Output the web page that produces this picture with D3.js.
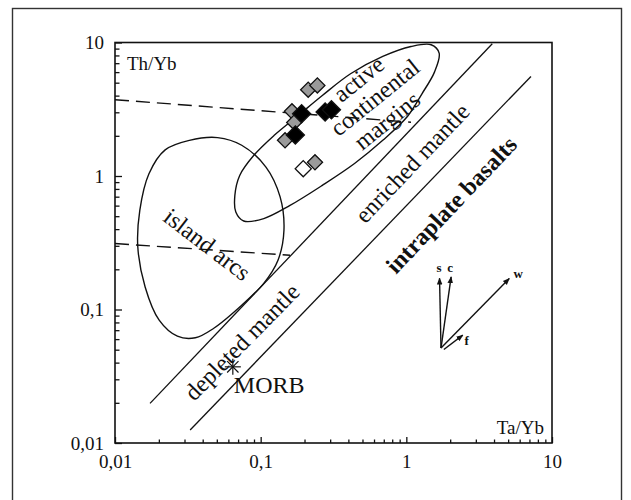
<!DOCTYPE html>
<html>
<head>
<meta charset="utf-8">
<script src="https://cdn.jsdelivr.net/npm/d3@7"></script>
<style>
  body { margin: 0; background: #fff; }
  svg { display: block; font-family: "Liberation Serif", "Times New Roman", serif; }
</style>
</head>
<body>
<div id="chart"></div>
<script>

// tick labels (decimal comma)
var majorTicks = [0.01, 0.1, 1, 10],
    majorLabels = ["0,01", "0,1", "1", "10"];

// field boundaries, points are [Ta/Yb, Th/Yb]
var mantleUpper = [[0.0174, 0.0198], [3.89, 9.78]],
    mantleLower = [[0.0328, 0.0125], [7.17, 5.57]];

var dashUpper = [[0.01, 3.73], [1.077, 2.53]],
    dashLower = [[0.01, 0.312], [0.159, 0.255]];

var activeMargins = [
    [0.0665, 0.716], [0.0718, 1.01], [0.0898, 1.43], [0.1234, 2.01],
    [0.181, 2.84], [0.265, 4.01], [0.414, 5.83], [0.689, 7.86],
    [1.077, 9.33], [1.48, 9.62], [1.68, 8.32], [1.56, 6.0],
    [1.28, 4.13], [1.02, 2.80], [0.689, 1.85], [0.441, 1.24],
    [0.265, 0.851], [0.159, 0.602], [0.105, 0.480], [0.0765, 0.460],
    [0.0675, 0.537]
];

var islandArcs = [
    [0.0506, 1.94], [0.0324, 1.85], [0.0221, 1.57], [0.0171, 1.04],
    [0.0148, 0.553], [0.01434, 0.294], [0.0161, 0.1476], [0.0201, 0.0832],
    [0.0268, 0.0631], [0.0356, 0.0614], [0.0474, 0.0721], [0.0741, 0.1077],
    [0.105, 0.157], [0.1315, 0.234], [0.1445, 0.392], [0.136, 0.697],
    [0.1087, 1.167], [0.0741, 1.70]
];

// samples
var greySamples = [[0.212, 4.43], [0.245, 4.77], [0.164, 3.05], [0.170, 2.52], [0.147, 1.85], [0.236, 1.265]],
    whiteSamples = [[0.196, 1.135]],
    blackSamples = [[0.191, 2.93], [0.277, 3.02], [0.306, 3.13], [0.173, 2.03]],
    morb = [0.0644, 0.0372];

// enrichment vectors
var vectorNames = ["s", "c", "w", "f"],
    vectorFrom = [[1.73, 0.0514], [1.73, 0.0514], [1.73, 0.0514], [1.81, 0.0502]],
    vectorTo = [[1.69, 0.1714], [2.03, 0.1754], [5.09, 0.1706], [2.44, 0.0643]],
    vectorLabelAt = [[1.68, 0.206], [1.995, 0.206], [5.87, 0.186], [2.60, 0.059]];

// field names
var fieldLabels = [
    {text: "active", at: [0.470, 5.35], angle: -39, weight: "normal"},
    {text: "continental", at: [0.607, 3.90], angle: -39, weight: "normal"},
    {text: "margins", at: [0.735, 2.61], angle: -39, weight: "normal"},
    {text: "island arcs", at: [0.0431, 0.308], angle: 37.5, weight: "normal"},
    {text: "enriched mantle", at: [1.094, 1.254], angle: -46.5, weight: "normal"},
    {text: "intraplate basalts", at: [2.03, 0.611], angle: -46.5, weight: "bold"},
    {text: "depleted mantle", at: [0.0741, 0.0573], angle: -45.5, weight: "normal"}
];


var width = 631,
    height = 500;

var svg = d3.select("#chart")
    .append("svg")
        .attr("width", width)
        .attr("height", height);

// outer frame of the figure
svg.append("rect")
    .attr("x", 12.5)
    .attr("y", 8.5)
    .attr("width", 609)
    .attr("height", 520)
    .attr("fill", "none")
    .attr("stroke", "#333")
    .attr("stroke-width", 1.4);

// set the ranges
var xScale = d3.scaleLog().domain([0.01, 10]).range([115, 552]);
var yScale = d3.scaleLog().domain([0.01, 10]).range([443, 42.5]);

var defs = svg.append("defs");
defs.append("clipPath").attr("id", "plotClip")
    .append("rect")
    .attr("x", 115).attr("y", 42.5)
    .attr("width", 437).attr("height", 400.5);

defs.append("marker")
    .attr("id", "head")
    .attr("viewBox", "0 0 10 10")
    .attr("refX", 9).attr("refY", 5)
    .attr("markerWidth", 7).attr("markerHeight", 7)
    .attr("markerUnits", "userSpaceOnUse")
    .attr("orient", "auto")
  .append("path")
    .attr("d", "M0,1L10,5L0,9Z")
    .attr("fill", "#111");

// minor and major ticks, pointing inwards
var minorX = xScale.ticks().filter(function(d) { return majorTicks.indexOf(d) < 0; });
var minorY = yScale.ticks().filter(function(d) { return majorTicks.indexOf(d) < 0; });

svg.append("g")
    .attr("transform", "translate(0,443)")
    .call(d3.axisBottom(xScale).tickValues(minorX).tickSize(-3.5).tickSizeOuter(0).tickFormat(""));
svg.append("g")
    .attr("transform", "translate(0,443)")
    .call(d3.axisBottom(xScale).tickValues(majorTicks).tickSize(-6).tickSizeOuter(0).tickPadding(12)
        .tickFormat(function(d, i) { return majorLabels[i]; }));

svg.append("g")
    .attr("transform", "translate(115,0)")
    .call(d3.axisLeft(yScale).tickValues(minorY).tickSize(-4.5).tickSizeOuter(0).tickFormat(""));
svg.append("g")
    .attr("transform", "translate(115,0)")
    .call(d3.axisLeft(yScale).tickValues(majorTicks).tickSize(-7).tickSizeOuter(0).tickPadding(11)
        .tickFormat(function(d, i) { return majorLabels[i]; }));

svg.selectAll(".domain").remove();
svg.selectAll(".tick line").attr("stroke", "#111").attr("stroke-width", 1.3);
svg.selectAll(".tick text")
    .attr("font-family", "Liberation Serif, serif")
    .attr("font-size", 19)
    .attr("fill", "#111");

// plot frame
svg.append("rect")
    .attr("x", 115).attr("y", 42.5)
    .attr("width", 437).attr("height", 400.5)
    .attr("fill", "none")
    .attr("stroke", "#111")
    .attr("stroke-width", 1.6);

// axis names inside the frame
svg.append("text")
    .attr("x", 127).attr("y", 70)
    .attr("font-size", 19)
    .attr("fill", "#111")
    .text("Th/Yb");
svg.append("text")
    .attr("x", 544).attr("y", 433.5)
    .attr("text-anchor", "end")
    .attr("font-size", 19)
    .attr("fill", "#111")
    .text("Ta/Yb");

var plot = svg.append("g").attr("clip-path", "url(#plotClip)");

var line = d3.line()
    .x(function(d) { return xScale(d[0]); })
    .y(function(d) { return yScale(d[1]); });

var closedCurve = d3.line()
    .x(function(d) { return xScale(d[0]); })
    .y(function(d) { return yScale(d[1]); })
    .curve(d3.curveCatmullRomClosed.alpha(0.5));

[mantleUpper, mantleLower].forEach(function(pts) {
    plot.append("path")
        .attr("d", line(pts))
        .attr("fill", "none")
        .attr("stroke", "#111")
        .attr("stroke-width", 1.3);
});

[dashUpper, dashLower].forEach(function(pts) {
    plot.append("path")
        .attr("d", line(pts))
        .attr("fill", "none")
        .attr("stroke", "#111")
        .attr("stroke-width", 1.4)
        .attr("stroke-dasharray", "14,7");
});

[activeMargins, islandArcs].forEach(function(pts) {
    plot.append("path")
        .attr("d", closedCurve(pts))
        .attr("fill", "none")
        .attr("stroke", "#111")
        .attr("stroke-width", 1.4);
});

// field names
fieldLabels.forEach(function(l) {
    var px = xScale(l.at[0]),
        py = yScale(l.at[1]);
    svg.append("text")
        .attr("transform", "translate(" + px + "," + py + ") rotate(" + l.angle + ")")
        .attr("text-anchor", "middle")
        .attr("dy", "0.35em")
        .attr("font-size", 24)
        .attr("font-weight", l.weight)
        .attr("fill", "#111")
        .text(l.text);
});

// sample diamonds
var diamond = d3.symbol().type(d3.symbolSquare);

function drawSamples(pts, fill, size) {
    plot.selectAll(null)
        .data(pts)
        .enter()
        .append("path")
        .attr("d", diamond.size(size)())
        .attr("transform", function(d) {
            return "translate(" + xScale(d[0]) + "," + yScale(d[1]) + ") rotate(45)";
        })
        .attr("fill", fill)
        .attr("stroke", "#111")
        .attr("stroke-width", 1.3);
}
drawSamples(greySamples, "#9a9a9a", 115);
drawSamples(whiteSamples, "#fff", 130);
drawSamples(blackSamples, "#000", 165);

// MORB star
var mx = xScale(morb[0]),
    my = yScale(morb[1]),
    r = 8;
var star = svg.append("g").attr("transform", "translate(" + mx + "," + my + ")");
[0, 45, 90, 135].forEach(function(a) {
    star.append("line")
        .attr("x1", -r).attr("x2", r)
        .attr("transform", "rotate(" + a + ")")
        .attr("stroke", "#111")
        .attr("stroke-width", 1.2);
});
svg.append("text")
    .attr("x", mx + 1).attr("y", my + 26)
    .attr("font-size", 24)
    .attr("fill", "#111")
    .text("MORB");

// vectors
vectorNames.forEach(function(name, i) {
    svg.append("line")
        .attr("x1", xScale(vectorFrom[i][0])).attr("y1", yScale(vectorFrom[i][1]))
        .attr("x2", xScale(vectorTo[i][0])).attr("y2", yScale(vectorTo[i][1]))
        .attr("stroke", "#111")
        .attr("stroke-width", 1.4)
        .attr("marker-end", "url(#head)");
    svg.append("text")
        .attr("x", xScale(vectorLabelAt[i][0]))
        .attr("y", yScale(vectorLabelAt[i][1]))
        .attr("text-anchor", "middle")
        .attr("dy", "0.35em")
        .attr("font-size", 13)
        .attr("font-weight", "bold")
        .attr("fill", "#111")
        .text(name);
});

</script>
</body>
</html>
